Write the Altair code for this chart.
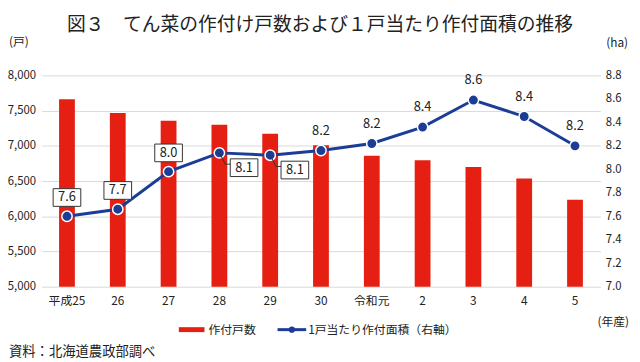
import altair as alt
import pandas as pd

# ---- data ----
years = ["平成25", "26", "27", "28", "29", "30", "令和元", "2", "3", "4", "5"]
households = [7660, 7465, 7355, 7300, 7170, 7010, 6860, 6795, 6700, 6535, 6235]
area = [7.60, 7.66, 7.98, 8.14, 8.12, 8.16, 8.22, 8.36, 8.59, 8.45, 8.20]
area_labels = ["7.6", "7.7", "8.0", "8.1", "8.1", "8.2", "8.2", "8.4", "8.6", "8.4", "8.2"]
left_ticks = [5000, 5500, 6000, 6500, 7000, 7500, 8000]
right_ticks = [7.0, 7.2, 7.4, 7.6, 7.8, 8.0, 8.2, 8.4, 8.6, 8.8]

title_text = "図３　てん菜の作付け戸数および１戸当たり作付面積の推移"
bar_name = "作付戸数"
line_name = "1戸当たり作付面積（右軸）"
source_text = "資料：北海道農政部調べ"

df = pd.DataFrame({"year": years, "households": households, "area": area,
                   "label": area_labels, "idx": list(range(len(years)))})
one = pd.DataFrame({"k": [0]})

FONT = "Noto Sans CJK JP"
RED = "#E52013"
BLUE = "#1B3D96"

xenc = alt.X("year:N", sort=years, title=None,
             scale=alt.Scale(type="band", paddingInner=0, paddingOuter=0),
             axis=alt.Axis(labelAngle=0, ticks=False, domain=False, labelPadding=9,
                           labelFontSize=12, labelFont=FONT, labelColor="#222"))

base = alt.Chart(df)

bars = base.mark_bar(color=RED, size=16, clip=True).encode(
    x=xenc,
    y=alt.Y("households:Q", title=None,
            scale=alt.Scale(domain=[5000, 8000], nice=False, zero=False),
            axis=alt.Axis(values=left_ticks, format=",d", ticks=False, domain=False,
                          gridColor="#D9D9D9", labelPadding=6, labelFontSize=11.5,
                          labelFont=FONT, labelColor="#222")),
)

yr = alt.Y("area:Q", title=None,
           scale=alt.Scale(domain=[7.0, 8.8], nice=False, zero=False),
           axis=alt.Axis(orient="right", values=right_ticks, format=".1f", grid=False,
                         ticks=False, domain=False, labelPadding=5, labelFontSize=11.5,
                         labelFont=FONT, labelColor="#222"))

line = base.mark_line(color=BLUE, strokeWidth=3).encode(x=xenc, y=yr)
pts = base.mark_point(filled=True, color=BLUE, size=110, stroke="white",
                      strokeWidth=1.5, opacity=1).encode(x=xenc, y=yr)

BOX = "M-1,-0.64L1,-0.64L1,0.64L-1,0.64Z"
LEAD = "M0,0L0.5,0.95L1,0.95"

above = base.transform_filter("datum.idx <= 2")
below = base.transform_filter("datum.idx == 3 || datum.idx == 4")
plain = base.transform_filter("datum.idx >= 5")

box_above = above.mark_point(shape=BOX, size=784, filled=True, fill="white", stroke="#333",
                             strokeWidth=1, opacity=1, yOffset=-19).encode(x=xenc, y=yr)
txt_above = above.mark_text(font=FONT, fontSize=13, color="#222", yOffset=-19).encode(
    x=xenc, y=yr, text="label:N")

lead_below = below.mark_point(shape=LEAD, size=576, filled=False, stroke="#333",
                              strokeWidth=1, opacity=1).encode(x=xenc, y=yr)
box_below = below.mark_point(shape=BOX, size=784, filled=True, fill="white", stroke="#333",
                             strokeWidth=1, opacity=1, xOffset=25, yOffset=15).encode(x=xenc, y=yr)
txt_below = below.mark_text(font=FONT, fontSize=13, color="#222", xOffset=25, yOffset=15).encode(
    x=xenc, y=yr, text="label:N")

txt_plain = plain.mark_text(font=FONT, fontSize=13, color="#222", yOffset=-20).encode(
    x=xenc, y=yr, text="label:N")

right_layer = alt.layer(line, pts, lead_below, box_above, txt_above, box_below, txt_below, txt_plain)

# ---- annotations & legend (pixel positions relative to plot area) ----
o = alt.Chart(one)
title = o.mark_text(font=FONT, fontSize=19, color="#222").encode(
    x=alt.value(282), y=alt.value(-51), text=alt.value(title_text))
unit_l = o.mark_text(font=FONT, fontSize=12, color="#222", align="left").encode(
    x=alt.value(-33), y=alt.value(-34), text=alt.value("(戸)"))
unit_r = o.mark_text(font=FONT, fontSize=12, color="#222", align="right").encode(
    x=alt.value(594), y=alt.value(-33), text=alt.value("(ha)"))
unit_x = o.mark_text(font=FONT, fontSize=12, color="#222", align="right").encode(
    x=alt.value(595), y=alt.value(250), text=alt.value("(年産)"))
src = o.mark_text(font=FONT, fontSize=13.5, color="#222", align="left").encode(
    x=alt.value(-33), y=alt.value(280), text=alt.value(source_text))
leg_bar = o.mark_rect(color=RED).encode(
    x=alt.value(139), x2=alt.value(165), y=alt.value(255), y2=alt.value(260))
leg_bar_t = o.mark_text(font=FONT, fontSize=12, color="#222", align="left").encode(
    x=alt.value(169), y=alt.value(258), text=alt.value(bar_name))
leg_line = o.mark_rule(color=BLUE, strokeWidth=3).encode(
    x=alt.value(239), x2=alt.value(268), y=alt.value(257.5))
leg_pt = o.mark_point(filled=True, color=BLUE, size=40, opacity=1).encode(
    x=alt.value(253.5), y=alt.value(257.5))
leg_line_t = o.mark_text(font=FONT, fontSize=12, color="#222", align="left").encode(
    x=alt.value(270), y=alt.value(258), text=alt.value(line_name))

chart = alt.layer(
    bars, right_layer,
    title, unit_l, unit_r, unit_x, src, leg_bar, leg_bar_t, leg_line, leg_pt, leg_line_t
).resolve_scale(y="independent").properties(
    width=566, height=214,
    padding={"left": 34, "top": 66, "right": 32, "bottom": 74},
    autosize=alt.AutoSizeParams(type="none"),
).configure_view(stroke=None)

chart.save("out.html", embed_options={"renderer": "svg", "actions": False})
